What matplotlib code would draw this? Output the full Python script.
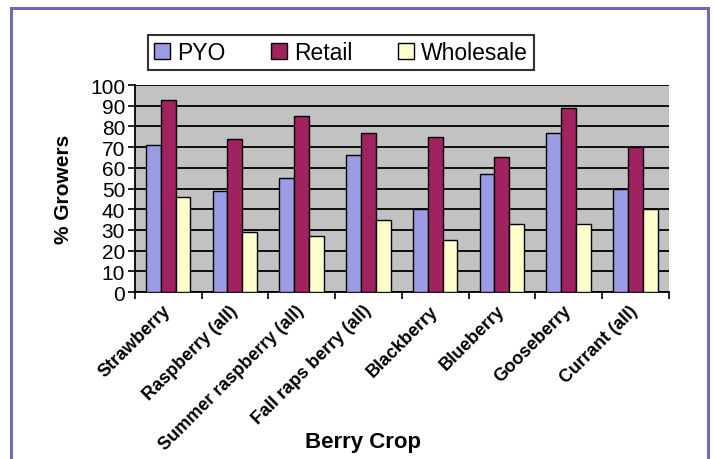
import numpy as np
import matplotlib
matplotlib.use('Agg')
import matplotlib.pyplot as plt
import matplotlib.transforms as mtransforms
from matplotlib.patches import Rectangle

crops = ["Strawberry", "Raspberry (all)", "Summer raspberry (all)", "Fall raps berry (all)",
         "Blackberry", "Blueberry", "Gooseberry", "Currant (all)"]
pyo = [71, 49, 55, 66, 40, 57, 77, 50]
retail = [93, 74, 85, 77, 75, 65, 89, 70]
wholesale = [46, 29, 27, 35, 25, 33, 33, 40]
series_names = ["PYO", "Retail", "Wholesale"]
colors = ["#9c9ce6", "#a0225e", "#ffffcc"]

plt.rcParams['font.family'] = ['Liberation Sans', 'DejaVu Sans']

fig = plt.figure(figsize=(7.13, 4.6), dpi=100)
ax = fig.add_axes([0.189, 0.363, 0.749, 0.45])
ax.set_facecolor("#c2c2c2")

x = np.arange(len(crops))
w = 1 / 4.5
for i, (vals, name, c) in enumerate(zip([pyo, retail, wholesale], series_names, colors)):
    ax.bar(x + (i - 1) * w, vals, width=w, color=c, edgecolor="black", linewidth=1.0,
           label=name, zorder=3)

ax.set_xlim(-0.5, len(crops) - 0.5)
ax.set_ylim(0, 100)
ax.set_yticks(range(0, 101, 10))
ax.yaxis.grid(True, color="black", linewidth=1.3, zorder=0)
ax.set_axisbelow(True)
ax.tick_params(axis='y', labelsize=15, direction='out', length=5, width=1.2, pad=2)

ax.set_xticks(np.arange(-0.5, len(crops), 1.0))
ax.set_xticklabels([])
ax.set_xticks(x, minor=True)
ax.set_xticklabels(crops, minor=True, rotation=45, ha='right', rotation_mode='anchor',
                   fontsize=13, fontweight='bold')
ax.tick_params(axis='x', which='major', direction='out', length=5, width=1.2)
ax.tick_params(axis='x', which='minor', length=0, pad=7)
shift = mtransforms.ScaledTranslation(-6 / 100, 0, fig.dpi_scale_trans)
for lbl in ax.get_xticklabels(minor=True):
    lbl.set_transform(lbl.get_transform() + shift)

for s in ['top', 'right']:
    ax.spines[s].set_visible(False)
for s in ['left', 'bottom']:
    ax.spines[s].set_linewidth(1.3)

ax.set_ylabel("% Growers", fontsize=15, fontweight='bold', labelpad=12)
fig.text(0.509, 0.025, "Berry Crop", fontsize=16, fontweight='bold', ha='center')

leg = fig.legend(loc='center', bbox_to_anchor=(0.478, 0.884), ncol=3, fontsize=16.5,
                 frameon=True, fancybox=False, edgecolor='black', handlelength=0.7,
                 handleheight=0.7, handletextpad=0.3, columnspacing=2.0,
                 borderpad=0.25)
leg.get_frame().set_linewidth(1.5)

# outer border
fig.patches.append(Rectangle((0.016, -0.05), 0.977, 1.03, transform=fig.transFigure,
                             fill=False, edgecolor="#6a6ab8", linewidth=2.2))

plt.savefig("out.png", dpi=100)
